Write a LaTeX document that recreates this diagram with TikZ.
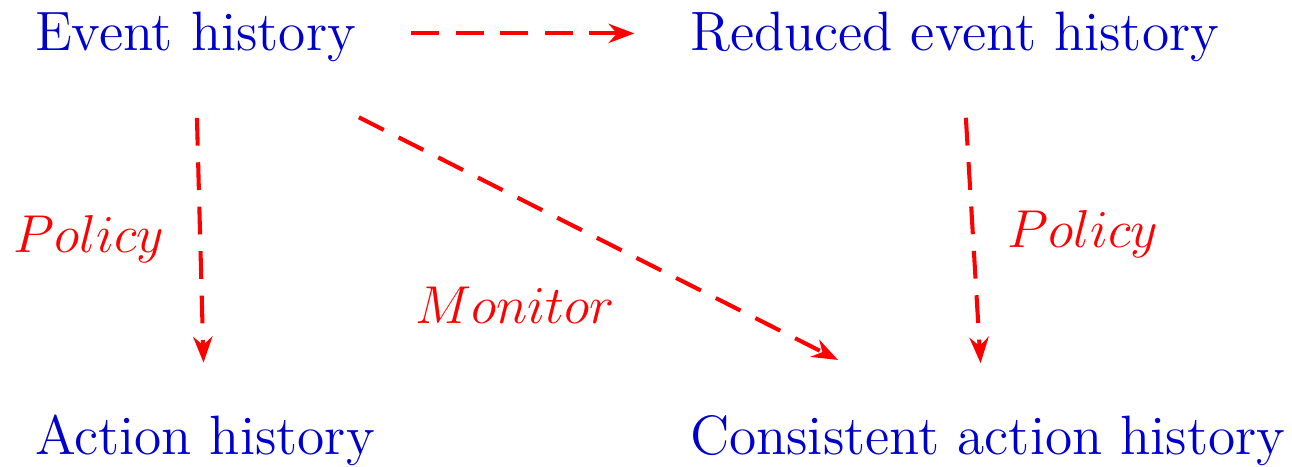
\documentclass[tikz,border=0pt]{standalone}
\usetikzlibrary{arrows.meta}
\definecolor{tblue}{rgb}{0,0,0.8}
\begin{document}
\begin{tikzpicture}[x=0.27pt,y=-0.27pt,
  histnode/.style={anchor=base west,inner sep=0pt,outer sep=0pt,text=tblue,font=\Large,scale=1.04},
  lbl/.style={anchor=base,inner sep=0pt,text=red,font=\Large},
  conn/.style={red,line width=1.1pt,dash pattern=on 7.5pt off 4.5pt,
    -{Stealth[length=7pt,width=5.2pt,inset=2.3pt]}},
  ]
\useasboundingbox (0,0) rectangle (1292,467);
\node[histnode] (ev) at (35,51) {Event history};
\node[histnode] (red) at (690,51) {Reduced event history};
\node[histnode] (act) at (35,454) {Action history};
\node[histnode] (cons) at (690,454) {Consistent action history};
\node[lbl] (pol1) at (89,252) {$Policy$};
\node[lbl] (pol2) at (1083,247) {$Policy$};
\node[lbl] (mon) at (515,323) {$Monitor$};
\draw[conn,shorten <=15pt,shorten >=15pt] ([shift={(0,-4)}]ev.east) -- ([shift={(0,-4)}]red.west);
\draw[conn,shorten <=15pt,shorten >=14pt] (ev.south) -- (act.north);
\draw[conn,shorten <=15pt,shorten >=14pt] ([shift={(8,0)}]red.south) -- ([shift={(-4,0)}]cons.north);
\draw[conn] ([shift={(3,55)}]ev.south east) -- ([shift={(148,-55)}]cons.north west);
\end{tikzpicture}
\end{document}
